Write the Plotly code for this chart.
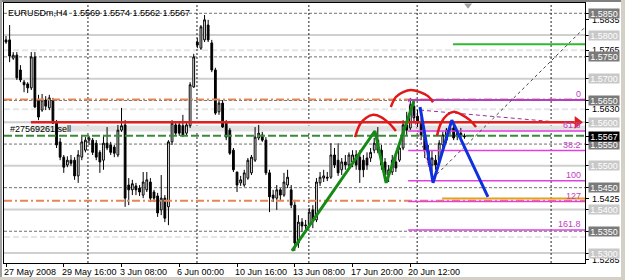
import plotly.graph_objects as go

# ---------------- data ----------------
symbol_title = "EURUSDm,H4  1.5569 1.5574 1.5562 1.5567"
time_labels = ["27 May 2008", "29 May 16:00", "3 Jun 08:00", "6 Jun 00:00",
               "10 Jun 16:00", "13 Jun 08:00", "17 Jun 20:00", "20 Jun 12:00"]
time_label_bars = [0, 16, 32, 48, 64, 80, 96, 112]

opens = [1.5789, 1.5789, 1.5747, 1.5754, 1.5720, 1.5692, 1.5688, 1.5679, 1.5750, 1.5651,
         1.5628, 1.5651, 1.5633, 1.5651, 1.5598, 1.5555, 1.5520, 1.5502, 1.5513, 1.5513,
         1.5477, 1.5520, 1.5536, 1.5559, 1.5559, 1.5552, 1.5531, 1.5513, 1.5552, 1.5548,
         1.5543, 1.5525, 1.5582, 1.5594, 1.5456, 1.5445, 1.5454, 1.5449, 1.5433, 1.5445,
         1.5463, 1.5440, 1.5431, 1.5399, 1.5426, 1.5406, 1.5555, 1.5594, 1.5594, 1.5592,
         1.5575, 1.5592, 1.5681, 1.5784, 1.5770, 1.5789, 1.5823, 1.5782, 1.5720, 1.5624,
         1.5644, 1.5598, 1.5582, 1.5536, 1.5486, 1.5461, 1.5456, 1.5472, 1.5484, 1.5513,
         1.5564, 1.5571, 1.5559, 1.5484, 1.5433, 1.5426, 1.5445, 1.5433, 1.5456, 1.5445,
         1.5410, 1.5323, 1.5371, 1.5362, 1.5364, 1.5399, 1.5376, 1.5461, 1.5472, 1.5474,
         1.5474, 1.5525, 1.5513, 1.5491, 1.5509, 1.5502, 1.5509, 1.5525, 1.5520, 1.5513,
         1.5518, 1.5518, 1.5536, 1.5559, 1.5536, 1.5509, 1.5479, 1.5486, 1.5509, 1.5513,
         1.5541, 1.5594, 1.5587, 1.5637, 1.5614, 1.5601, 1.5571, 1.5536, 1.5502, 1.5513,
         1.5513, 1.5548, 1.5559, 1.5582, 1.5587, 1.5569, 1.5575, 1.5569]
highs = [1.5798, 1.5823, 1.5761, 1.5761, 1.5731, 1.5697, 1.5692, 1.5761, 1.5761, 1.5663,
         1.5665, 1.5660, 1.5663, 1.5656, 1.5605, 1.5564, 1.5525, 1.5522, 1.5525, 1.5520,
         1.5536, 1.5571, 1.5566, 1.5569, 1.5564, 1.5559, 1.5536, 1.5571, 1.5589, 1.5555,
         1.5548, 1.5594, 1.5633, 1.5605, 1.5472, 1.5468, 1.5461, 1.5456, 1.5486, 1.5486,
         1.5472, 1.5445, 1.5438, 1.5479, 1.5433, 1.5559, 1.5605, 1.5603, 1.5601, 1.5617,
         1.5601, 1.5692, 1.5757, 1.5793, 1.5823, 1.5846, 1.5835, 1.5789, 1.5725, 1.5651,
         1.5651, 1.5605, 1.5587, 1.5541, 1.5486, 1.5477, 1.5491, 1.5518, 1.5525, 1.5589,
         1.5594, 1.5578, 1.5566, 1.5491, 1.5445, 1.5456, 1.5449, 1.5484, 1.5491, 1.5456,
         1.5422, 1.5387, 1.5380, 1.5376, 1.5403, 1.5410, 1.5472, 1.5486, 1.5491, 1.5486,
         1.5552, 1.5541, 1.5552, 1.5518, 1.5525, 1.5531, 1.5536, 1.5536, 1.5536, 1.5525,
         1.5531, 1.5541, 1.5564, 1.5589, 1.5548, 1.5518, 1.5502, 1.5525, 1.5525, 1.5548,
         1.5605, 1.5624, 1.5656, 1.5651, 1.5628, 1.5610, 1.5582, 1.5548, 1.5536, 1.5525,
         1.5559, 1.5578, 1.5587, 1.5594, 1.5594, 1.5582, 1.5587, 1.5574]
lows = [1.5780, 1.5738, 1.5743, 1.5697, 1.5692, 1.5669, 1.5667, 1.5674, 1.5633, 1.5605,
        1.5624, 1.5628, 1.5628, 1.5596, 1.5541, 1.5513, 1.5484, 1.5497, 1.5500, 1.5468,
        1.5461, 1.5513, 1.5531, 1.5548, 1.5525, 1.5513, 1.5484, 1.5491, 1.5536, 1.5525,
        1.5520, 1.5520, 1.5578, 1.5406, 1.5410, 1.5433, 1.5433, 1.5431, 1.5426, 1.5440,
        1.5417, 1.5417, 1.5383, 1.5387, 1.5371, 1.5364, 1.5548, 1.5571, 1.5569, 1.5566,
        1.5569, 1.5587, 1.5679, 1.5770, 1.5766, 1.5784, 1.5784, 1.5715, 1.5617, 1.5617,
        1.5587, 1.5559, 1.5525, 1.5486, 1.5440, 1.5454, 1.5452, 1.5468, 1.5479, 1.5509,
        1.5559, 1.5555, 1.5479, 1.5394, 1.5417, 1.5399, 1.5422, 1.5429, 1.5449, 1.5403,
        1.5305, 1.5312, 1.5348, 1.5348, 1.5357, 1.5357, 1.5371, 1.5454, 1.5463, 1.5465,
        1.5470, 1.5495, 1.5477, 1.5479, 1.5491, 1.5495, 1.5497, 1.5491, 1.5461, 1.5474,
        1.5491, 1.5509, 1.5529, 1.5529, 1.5491, 1.5468, 1.5463, 1.5479, 1.5486, 1.5509,
        1.5536, 1.5571, 1.5582, 1.5598, 1.5589, 1.5559, 1.5518, 1.5502, 1.5486, 1.5491,
        1.5506, 1.5536, 1.5552, 1.5571, 1.5559, 1.5559, 1.5559, 1.5562]
closes = [1.5784, 1.5752, 1.5754, 1.5702, 1.5697, 1.5686, 1.5679, 1.5750, 1.5635, 1.5612,
          1.5651, 1.5637, 1.5656, 1.5598, 1.5548, 1.5520, 1.5497, 1.5513, 1.5506, 1.5477,
          1.5525, 1.5555, 1.5559, 1.5564, 1.5531, 1.5520, 1.5509, 1.5552, 1.5541, 1.5531,
          1.5529, 1.5582, 1.5592, 1.5426, 1.5445, 1.5459, 1.5445, 1.5440, 1.5463, 1.5468,
          1.5426, 1.5426, 1.5392, 1.5426, 1.5380, 1.5555, 1.5598, 1.5575, 1.5575, 1.5571,
          1.5594, 1.5686, 1.5750, 1.5777, 1.5819, 1.5835, 1.5789, 1.5720, 1.5621, 1.5644,
          1.5589, 1.5566, 1.5529, 1.5491, 1.5456, 1.5468, 1.5484, 1.5513, 1.5520, 1.5566,
          1.5575, 1.5559, 1.5484, 1.5429, 1.5426, 1.5445, 1.5433, 1.5463, 1.5474, 1.5410,
          1.5323, 1.5371, 1.5362, 1.5364, 1.5394, 1.5376, 1.5463, 1.5474, 1.5477, 1.5472,
          1.5525, 1.5502, 1.5484, 1.5509, 1.5502, 1.5525, 1.5525, 1.5502, 1.5491, 1.5491,
          1.5502, 1.5531, 1.5552, 1.5536, 1.5502, 1.5479, 1.5491, 1.5513, 1.5495, 1.5541,
          1.5594, 1.5582, 1.5640, 1.5610, 1.5598, 1.5571, 1.5536, 1.5513, 1.5518, 1.5502,
          1.5552, 1.5571, 1.5582, 1.5587, 1.5564, 1.5575, 1.5569, 1.5567]
bars = list(range(len(closes)))

# drawn objects: (bar index, price)
green_zz_bar = [79.2, 102.2, 105.3, 113.0]
green_zz_price = [1.5305, 1.5580, 1.5461, 1.5649]
blue_zz_bar = [114.7, 118.3, 123.5, 133.5]
blue_zz_price = [1.5635, 1.5461, 1.5605, 1.5429]
arc1_bar = [96.7, 98.1, 99.7, 101.7, 103.9, 106.1, 108.0]
arc1_price = [1.5566, 1.5596, 1.5610, 1.5617, 1.5612, 1.5598, 1.5580]
arc2_bar = [106.6, 108.0, 110.0, 112.2, 114.7, 116.9, 118.3]
arc2_price = [1.5635, 1.5658, 1.5669, 1.5674, 1.5669, 1.5660, 1.5646]
arc3_bar = [119.4, 120.5, 122.2, 124.1, 126.3, 128.5, 130.2]
arc3_price = [1.5569, 1.5598, 1.5617, 1.5624, 1.5617, 1.5605, 1.5589]
resist_bar = [6.9, 157.5]
resist_price = 1.5600
order_price = 1.5569
order_label = "#27569261 sell"
orange_levels = [1.5652, 1.5420]
tp_bar = [123.8, 161.0]
tp_price = 1.5779
target_bar = [120.8, 161.0]
target_price = 1.5425
fib_names = ["0", "61.8", "38.2", "100", "127", "161.8"]
fib_prices = [1.5651, 1.5580, 1.5535, 1.5466, 1.5418, 1.5353]
fib_start_bar = 111.4
fib_base_bar = [111.4, 118.3]
fib_base_price = [1.5651, 1.5466]
purple_dash_bar = [114.7, 159.0]
purple_dash_price = [1.5628, 1.5596]
gray_diag_bar = [119.4, 160.4]
gray_diag_price = [1.5481, 1.5818]
grid_major = [1.5850, 1.5750, 1.5650, 1.5550, 1.5450, 1.5350]
grid_minor = [1.5800, 1.5700, 1.5600, 1.5500, 1.5400, 1.5300]
faint_levels = [1.5765, 1.5630, 1.5337]
vgrid_bars = [22.7, 52.9, 83.9, 113.9, 151.0]
dark_box_prices = [1.5850, 1.5750, 1.5650, 1.5550, 1.5450, 1.5350]
light_box_prices = [1.5800, 1.5700, 1.5600, 1.5500, 1.5400, 1.5300]
plain_prices = [1.5835, 1.5765, 1.5630, 1.5425, 1.5285]
current_price = 1.5567

# ---------------- figure ----------------
W, H = 625, 280
ML, MR, MT, MB = 4, 40, 3, 17
X0, X1 = -0.554, 160.39
Y0, Y1 = 1.52772, 1.58736
FONT = "Liberation Sans"

fig = go.Figure()
shapes = []
annotations = []

def px_x(p):
    return (p - ML) / (W - ML - MR)

def px_y(p):
    return (H - MB - p) / (H - MT - MB)

# grid
for p in grid_minor:
    shapes.append(dict(type="line", xref="paper", yref="y", x0=0, x1=1, y0=p, y1=p,
                       line=dict(color="#cfcfcf", width=2), layer="below"))
for p in faint_levels:
    shapes.append(dict(type="line", xref="paper", yref="y", x0=0, x1=1, y0=p, y1=p,
                       line=dict(color="#e6e6e6", width=2, dash="6px,3px"), layer="below"))
for p in grid_major:
    shapes.append(dict(type="line", xref="paper", yref="y", x0=0, x1=1, y0=p, y1=p,
                       line=dict(color="#707070", width=1, dash="3px,2px"), layer="below"))
for b in vgrid_bars:
    shapes.append(dict(type="line", xref="x", yref="paper", x0=b, x1=b, y0=0, y1=1,
                       line=dict(color="#202020", width=1, dash="2px,2px"), layer="below"))
# gray band under resistance
shapes.append(dict(type="line", xref="x", yref="y", x0=resist_bar[0], x1=X1,
                   y0=resist_price - 0.0014, y1=resist_price - 0.0014,
                   line=dict(color="#e2e2e2", width=6), layer="below"))

fig.add_trace(go.Candlestick(
    x=bars, open=opens, high=highs, low=lows, close=closes,
    increasing=dict(line=dict(color="black", width=1), fillcolor="white"),
    decreasing=dict(line=dict(color="black", width=1), fillcolor="black"),
    whiskerwidth=0, hoverinfo="skip", showlegend=False))

def add_line(xs, ys, color, width, dash="solid"):
    fig.add_trace(go.Scatter(x=xs, y=ys, mode="lines", line=dict(color=color, width=width, dash=dash),
                             hoverinfo="skip", showlegend=False, cliponaxis=True))

# horizontal objects
for p in orange_levels:
    add_line([X0, X1], [p, p], "#e8845a", 2, "8px,3px,2px,3px")
add_line([X0, X1], [order_price, order_price], "#3a8a3a", 2, "8px,3px")
add_line(tp_bar, [tp_price, tp_price], "#33b833", 2)
add_line(target_bar, [target_price, target_price], "#e8a020", 2)

# fibonacci
for i, (nm, p) in enumerate(zip(fib_names, fib_prices)):
    add_line([fib_start_bar, X1], [p, p], "#b040c8" if i == 0 else "#e040e0", 2 if i == 0 else 1.5)
    annotations.append(dict(xref="paper", x=1, xanchor="right", xshift=-2, yref="y", y=p,
                            yanchor="bottom", yshift=-1, text=nm, showarrow=False,
                            font=dict(family=FONT, size=9, color="#c040c0")))
add_line(fib_base_bar, fib_base_price, "#c040c0", 1, "2px,2px")
add_line(purple_dash_bar, purple_dash_price, "#9a309a", 1, "4px,3px")
add_line(gray_diag_bar, gray_diag_price, "#404040", 1, "3px,3px")

# resistance
add_line(resist_bar, [resist_price, resist_price], "#e02020", 2.5)
fig.add_trace(go.Scatter(x=[resist_bar[1] + 0.8], y=[resist_price], mode="markers",
                         marker=dict(symbol="triangle-right", size=11, color="#e02020"),
                         hoverinfo="skip", showlegend=False))

# patterns
add_line(green_zz_bar, green_zz_price, "#168a16", 3)
add_line(blue_zz_bar, blue_zz_price, "#1030e0", 3)
for xs, ys in [(arc1_bar, arc1_price), (arc2_bar, arc2_price), (arc3_bar, arc3_price)]:
    fig.add_trace(go.Scatter(x=xs, y=ys, mode="lines", line=dict(color="#e01818", width=2.5, shape="spline"),
                             hoverinfo="skip", showlegend=False))

# chart shift marker
fig.add_trace(go.Scatter(x=[128], y=[Y1 - 0.0005], mode="markers",
                         marker=dict(symbol="triangle-down", size=7, color="#a0a0a0"),
                         hoverinfo="skip", showlegend=False, cliponaxis=False))

# texts
annotations.append(dict(xref="paper", x=0, xanchor="left", xshift=2, yref="paper", y=1, yanchor="top",
                        yshift=-3, text=symbol_title, showarrow=False,
                        font=dict(family=FONT, size=9, color="black")))
annotations.append(dict(xref="paper", x=0, xanchor="left", xshift=4, yref="y", y=order_price,
                        yanchor="bottom", yshift=0, text=order_label, showarrow=False,
                        font=dict(family=FONT, size=9, color="black")))
for b, t in zip(time_label_bars, time_labels):
    annotations.append(dict(xref="x", x=b, xanchor="left", xshift=-4, yref="paper", y=0,
                            yanchor="top", yshift=-2, text=t, showarrow=False,
                            font=dict(family=FONT, size=9, color="black")))
for p in plain_prices:
    annotations.append(dict(xref="paper", x=1, xanchor="left", xshift=5, yref="y", y=p,
                            yanchor="middle", text=f"{p:.4f}", showarrow=False,
                            font=dict(family=FONT, size=9, color="black")))
for p in light_box_prices:
    annotations.append(dict(xref="paper", x=1, xanchor="left", xshift=3, yref="y", y=p,
                            yanchor="middle", text=f"{p:.4f}", showarrow=False, bgcolor="#c8c8c8",
                            width=30, height=9, borderpad=0,
                            font=dict(family=FONT, size=9, color="white")))
for p in dark_box_prices:
    annotations.append(dict(xref="paper", x=1, xanchor="left", xshift=3, yref="y", y=p,
                            yanchor="middle", text=f"{p:.4f}", showarrow=False, bgcolor="#7a7a7a",
                            width=30, height=9, borderpad=0,
                            font=dict(family=FONT, size=9, color="white")))
annotations.append(dict(xref="paper", x=1, xanchor="left", xshift=3, yref="y", y=current_price,
                        yanchor="middle", text=f"{current_price:.4f}", showarrow=False, bgcolor="black",
                        width=30, height=9, borderpad=0,
                        font=dict(family=FONT, size=9, color="white")))

# window frame
for (a, b, c, d, col) in [(0, 0, 625, 2, "#808080"), (0, 0, 2, 280, "#a0a0a0"),
                          (621, 0, 625, 280, "#d4d0c8"), (0, 277, 625, 280, "#d4d0c8")]:
    shapes.append(dict(type="rect", xref="paper", yref="paper", x0=px_x(a), x1=px_x(c),
                       y0=px_y(d), y1=px_y(b), fillcolor=col, line=dict(width=0), layer="above"))

all_axis_prices = dark_box_prices + light_box_prices + plain_prices + [current_price]
fig.update_layout(
    width=W, height=H, margin=dict(l=ML, r=MR, t=MT, b=MB),
    paper_bgcolor="white", plot_bgcolor="white",
    shapes=shapes, annotations=annotations,
    xaxis=dict(range=[X0, X1], showgrid=False, zeroline=False, showline=True, mirror=True,
               linecolor="black", linewidth=1, ticks="outside", ticklen=3, tickcolor="black",
               tickvals=time_label_bars, showticklabels=False, rangeslider=dict(visible=False),
               fixedrange=True),
    yaxis=dict(range=[Y0, Y1], side="right", showgrid=False, zeroline=False, showline=True,
               mirror=True, linecolor="black", linewidth=1, ticks="outside", ticklen=3,
               tickcolor="black", tickvals=all_axis_prices, showticklabels=False, fixedrange=True),
    showlegend=False,
)

fig.write_html("out.html")
